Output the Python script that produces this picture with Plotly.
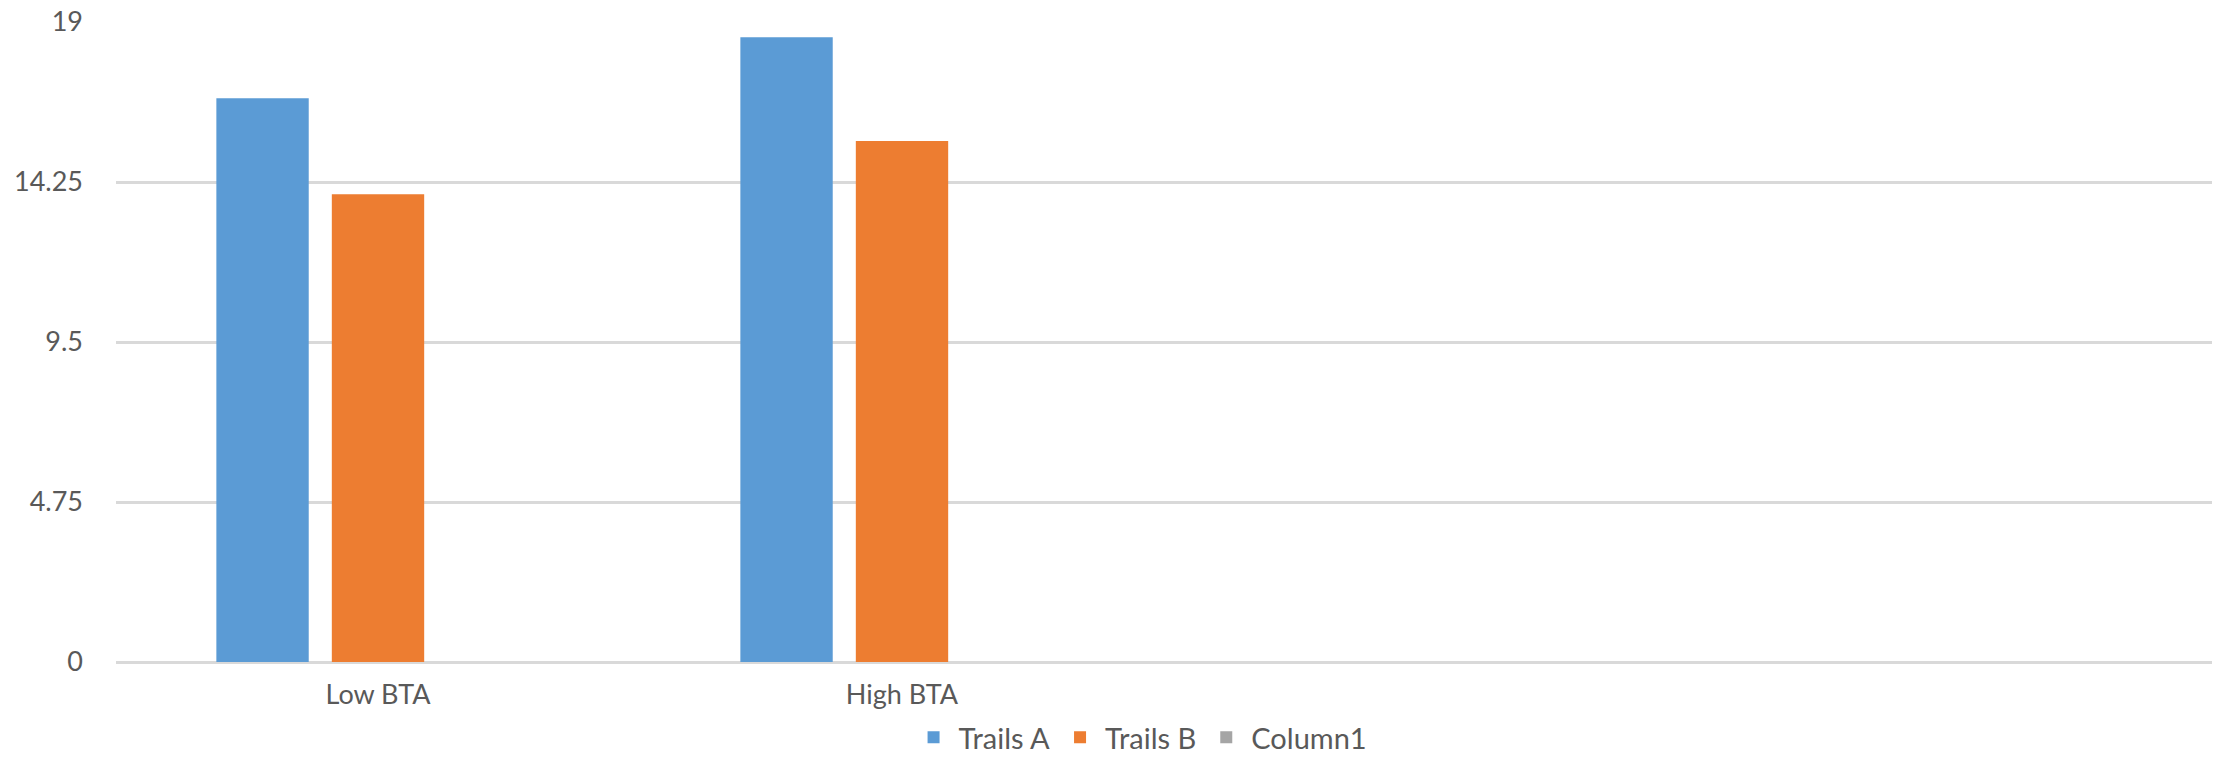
import plotly.graph_objects as go

categories = ["Low BTA", "High BTA", " ", "  "]
trails_a = [16.74, 18.55, None, None]
trails_b = [13.89, 15.47, None, None]
column1 = [None, None, None, None]

series_names = ["Trails A", "Trails B", "Column1"]
series_colors = ["#5B9BD5", "#ED7D31", "#A5A5A5"]
tick_vals = [0, 4.75, 9.5, 14.25, 19]

FONT = "Lato"
TXT = "#595959"

fig = go.Figure()
for name, vals, col in zip(series_names, [trails_a, trails_b, column1], series_colors):
    fig.add_trace(go.Bar(name=name, x=categories, y=vals, marker=dict(color=col, line=dict(width=0))))

fig.update_layout(
    width=2219, height=763,
    margin=dict(l=116, r=7, t=22, b=101, autoexpand=False),
    paper_bgcolor="white", plot_bgcolor="white",
    barmode="group", bargap=0.339, bargroupgap=0.2,
    font=dict(family=FONT, size=27, color=TXT),
    legend=dict(orientation="h", xref="container", yref="container",
                x=0.514, xanchor="center", y=-0.007, yanchor="bottom",
                font=dict(family=FONT, size=29, color=TXT), itemwidth=40,
                borderwidth=0, bgcolor="rgba(0,0,0,0)"),
    xaxis=dict(type="category", categoryorder="array", categoryarray=categories,
               showgrid=False, showline=False, ticks="", ticklabelstandoff=14,
               automargin=False,
               tickfont=dict(family=FONT, size=27, color=TXT)),
    yaxis=dict(range=[0, 19], tickmode="array", tickvals=tick_vals,
               ticktext=[str(v) if v % 1 else str(int(v)) for v in tick_vals],
               showgrid=True, gridcolor="#D9D9D9", gridwidth=2.5,
               zeroline=True, zerolinecolor="#D9D9D9", zerolinewidth=3,
               showline=False, ticks="", ticklabelstandoff=32, automargin=False,
               tickfont=dict(family=FONT, size=27, color=TXT)),
)

fig.write_html("out.html")
